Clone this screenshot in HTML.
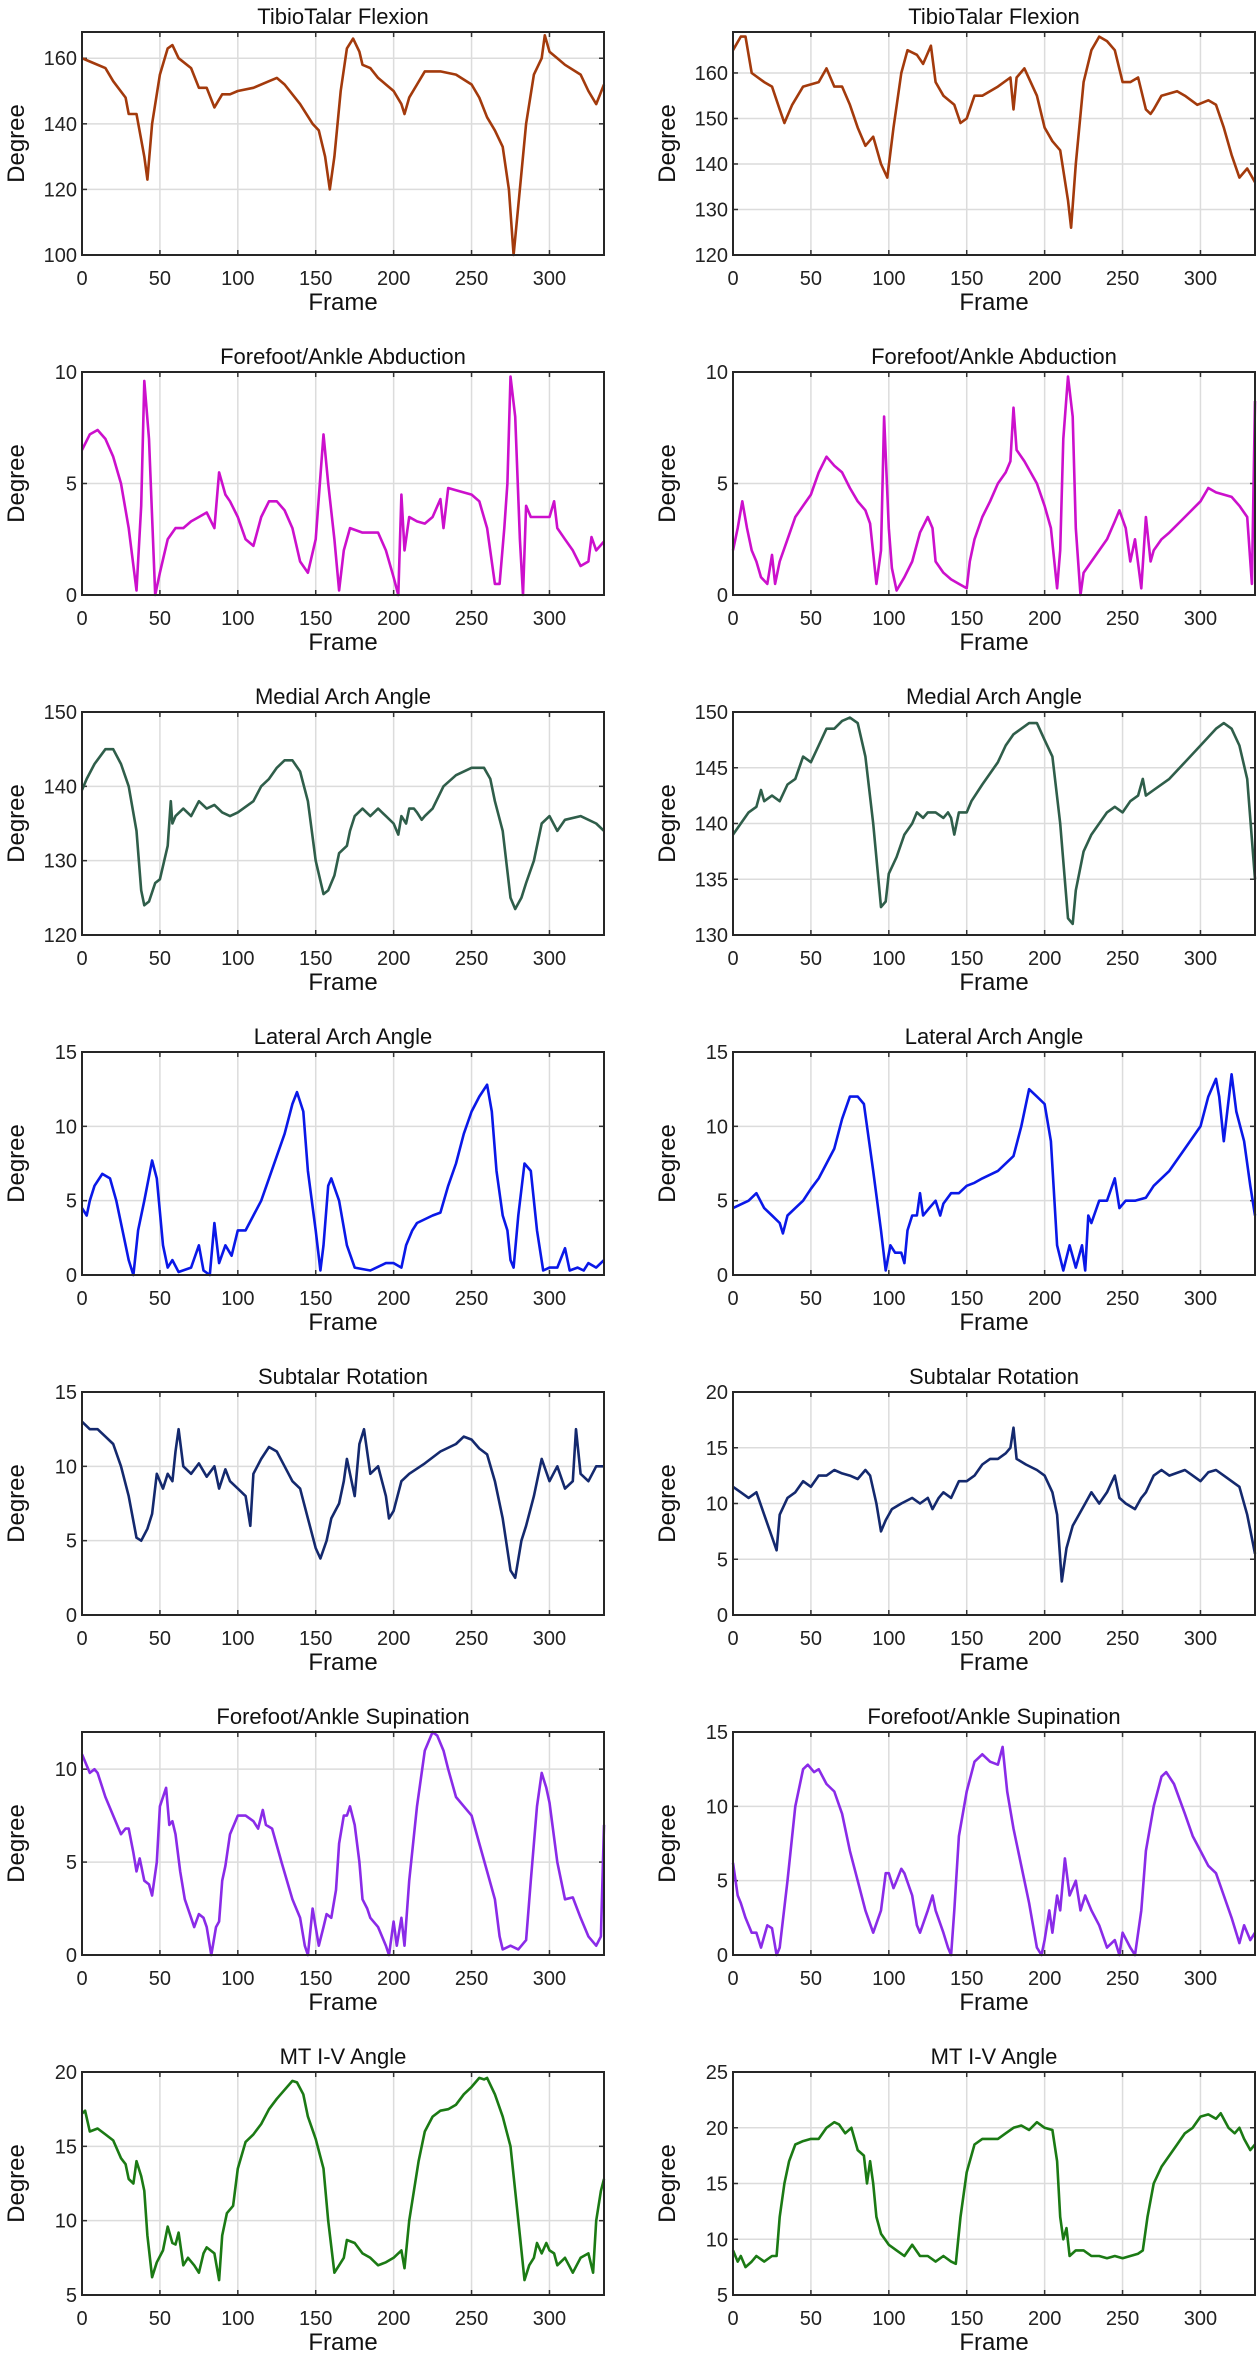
<!DOCTYPE html>
<html><head><meta charset="utf-8">
<style>
html,body{margin:0;padding:0;background:#fff;}
svg{display:block;font-family:"Liberation Sans",sans-serif;}
</style></head>
<body>
<svg id="chart" width="1260" height="2363" viewBox="0 0 1260 2363" xmlns="http://www.w3.org/2000/svg"></svg>
<script>
// ---- data (frame, value) keypoints per series ----
const titles=["TibioTalar Flexion","Forefoot/Ankle Abduction","Medial Arch Angle","Lateral Arch Angle","Subtalar Rotation","Forefoot/Ankle Supination","MT I-V Angle"];
const colors=["#a33a0c","#cc10cc","#2f5e4a","#0a18e8","#14296e","#8a2be8","#1b7a14"];
const xTicks=[0,50,100,150,200,250,300];
const xMax=335;
const yRangesL=[[100,168],[0,10],[120,150],[0,15],[0,15],[0,12],[5,20]];
const yRangesR=[[120,169],[0,10],[130,150],[0,15],[0,20],[0,15],[5,25]];
const yTicksL=[[100,120,140,160],[0,5,10],[120,130,140,150],[0,5,10,15],[0,5,10,15],[0,5,10],[5,10,15,20]];
const yTicksR=[[120,130,140,150,160],[0,5,10],[130,135,140,145,150],[0,5,10,15],[0,5,10,15,20],[0,5,10,15],[5,10,15,20,25]];

const tibioL=[[0,160],[5,159],[15,157],[20,153],[28,148],[30,143],[35,143],[40,130],[42,123],[45,140],[50,155],[55,163],[58,164],[62,160],[70,157],[75,151],[80,151],[85,145],[90,149],[95,149],[100,150],[110,151],[120,153],[125,154],[130,152],[140,146],[148,140],[152,138],[156,130],[159,120],[162,130],[166,150],[170,163],[174,166],[178,162],[180,158],[185,157],[190,154],[195,152],[200,150],[205,146],[207,143],[210,148],[215,152],[220,156],[225,156],[230,156],[240,155],[250,152],[255,148],[260,142],[265,138],[270,133],[274,120],[277,100],[280,115],[285,140],[290,155],[295,160],[297,167],[300,162],[305,160],[310,158],[320,155],[325,150],[330,146],[335,152]];
const tibioR=[[0,165],[5,168],[8,168],[12,160],[20,158],[25,157],[30,152],[33,149],[38,153],[45,157],[55,158],[60,161],[65,157],[70,157],[75,153],[80,148],[85,144],[90,146],[95,140],[99,137],[103,148],[108,160],[112,165],[118,164],[122,162],[127,166],[130,158],[135,155],[142,153],[146,149],[150,150],[155,155],[160,155],[170,157],[178,159],[180,152],[182,159],[187,161],[195,155],[200,148],[205,145],[210,143],[215,132],[217,126],[220,140],[225,158],[230,165],[235,168],[240,167],[245,165],[250,158],[255,158],[260,159],[265,152],[268,151],[270,152],[275,155],[285,156],[290,155],[298,153],[305,154],[310,153],[315,148],[320,142],[325,137],[330,139],[335,136]];
const abdL=[[0,6.5],[5,7.2],[10,7.4],[15,7.0],[20,6.2],[25,5.0],[30,3],[35,0.2],[38,4],[40,9.6],[43,7],[47,0],[50,1],[55,2.5],[60,3],[65,3],[70,3.3],[75,3.5],[80,3.7],[85,3.0],[88,5.5],[92,4.5],[95,4.2],[100,3.5],[105,2.5],[110,2.2],[115,3.5],[120,4.2],[125,4.2],[130,3.8],[135,3],[140,1.5],[145,1],[150,2.5],[155,7.2],[158,5],[162,2.5],[165,0.2],[168,2],[172,3.0],[180,2.8],[190,2.8],[195,2.0],[200,0.8],[203,0],[205,4.5],[207,2],[210,3.5],[215,3.3],[220,3.2],[225,3.5],[230,4.3],[232,3],[235,4.8],[240,4.7],[250,4.5],[255,4.2],[260,3],[265,0.5],[268,0.5],[271,3],[273,5],[275,9.8],[278,8],[281,2.5],[283,0],[285,4],[288,3.5],[295,3.5],[300,3.5],[303,4.2],[305,3],[310,2.5],[315,2],[320,1.3],[325,1.5],[327,2.6],[330,2.0],[335,2.4]];
const abdR=[[0,2],[3,3],[6,4.2],[9,3],[12,2],[15,1.5],[18,0.8],[22,0.5],[25,1.8],[27,0.5],[30,1.5],[35,2.5],[40,3.5],[45,4],[50,4.5],[55,5.5],[60,6.2],[65,5.8],[70,5.5],[75,4.8],[80,4.2],[85,3.8],[88,3.2],[92,0.5],[95,2],[97,8],[100,3],[102,1.2],[105,0.2],[110,0.8],[115,1.5],[120,2.8],[125,3.5],[128,3],[130,1.5],[135,1],[140,0.7],[145,0.5],[150,0.3],[152,1.5],[155,2.5],[160,3.5],[165,4.2],[170,5],[175,5.5],[178,6],[180,8.4],[182,6.5],[187,6],[195,5],[200,4],[204,3],[208,0.3],[210,2],[212,7],[215,9.8],[218,8],[220,3],[223,0],[225,1],[230,1.5],[235,2],[240,2.5],[245,3.3],[248,3.8],[252,3],[255,1.5],[258,2.5],[262,0.3],[265,3.5],[268,1.5],[270,2],[275,2.5],[280,2.8],[290,3.5],[300,4.2],[305,4.8],[310,4.6],[320,4.4],[325,4],[330,3.5],[333,0.5],[335,8.7]];
const medL=[[0,139.5],[3,141],[8,143],[15,145],[20,145],[25,143],[30,140],[35,134],[38,126],[40,124],[43,124.5],[47,127],[50,127.5],[55,132],[57,138],[58,135],[60,136],[65,137],[70,136],[75,138],[80,137],[85,137.5],[90,136.5],[95,136],[100,136.5],[110,138],[115,140],[120,141],[125,142.5],[130,143.5],[135,143.5],[140,142],[145,138],[150,130],[155,125.5],[158,126],[162,128],[165,131],[170,132],[172,134],[175,136],[180,137],[185,136],[190,137],[195,136],[200,135],[203,133.5],[205,136],[208,135],[210,137],[213,137],[215,136.5],[218,135.5],[220,136],[225,137],[232,140],[240,141.5],[250,142.5],[258,142.5],[262,141],[265,138],[270,134],[275,125],[278,123.5],[282,125],[285,127],[290,130],[295,135],[300,136],[305,134],[310,135.5],[320,136],[330,135],[335,134]];
const medR=[[0,139],[5,140],[10,141],[15,141.5],[18,143],[20,142],[25,142.5],[30,142],[35,143.5],[40,144],[45,146],[50,145.5],[55,147],[60,148.5],[65,148.5],[70,149.2],[75,149.5],[80,149],[85,146],[90,140],[95,132.5],[98,133],[100,135.5],[105,137],[110,139],[115,140],[118,141],[122,140.5],[125,141],[130,141],[135,140.5],[138,141],[140,140.5],[142,139],[145,141],[150,141],[153,142],[160,143.5],[170,145.5],[175,147],[180,148],[185,148.5],[190,149],[195,149],[200,147.5],[205,146],[210,140],[215,131.5],[218,131],[220,134],[225,137.5],[230,139],[235,140],[240,141],[245,141.5],[250,141],[255,142],[260,142.5],[263,144],[265,142.5],[270,143],[280,144],[290,145.5],[300,147],[310,148.5],[315,149],[320,148.5],[325,147],[330,144],[335,135]];
const latL=[[0,4.5],[3,4],[5,5],[8,6],[13,6.8],[18,6.5],[22,5],[26,3],[30,1],[33,0],[36,3],[40,5],[45,7.7],[48,6.5],[52,2],[55,0.5],[58,1],[62,0.2],[70,0.5],[75,2],[78,0.3],[82,0],[85,3.5],[88,0.8],[92,2],[96,1.3],[100,3],[105,3],[110,4],[115,5],[120,6.5],[125,8],[130,9.5],[135,11.5],[138,12.3],[142,11],[145,7],[150,3],[153,0.3],[155,2],[158,6],[160,6.5],[165,5],[170,2],[175,0.5],[185,0.3],[195,0.8],[200,0.8],[205,0.5],[208,2],[212,3],[215,3.5],[225,4],[230,4.2],[235,6],[240,7.5],[245,9.5],[250,11],[255,12],[260,12.8],[263,11],[266,7],[270,4],[273,3],[275,1],[277,0.5],[280,4],[284,7.5],[288,7],[292,3],[296,0.3],[300,0.5],[305,0.5],[310,1.8],[313,0.3],[318,0.5],[322,0.3],[325,0.8],[330,0.5],[335,1]];
const latR=[[0,4.5],[10,5],[15,5.5],[20,4.5],[25,4],[30,3.5],[32,2.8],[35,4],[40,4.5],[45,5],[50,5.8],[55,6.5],[60,7.5],[65,8.5],[70,10.5],[75,12],[80,12],[84,11.5],[90,7],[95,3],[98,0.3],[101,2],[104,1.5],[108,1.5],[110,0.8],[112,3],[115,4],[118,4],[120,5.5],[122,4],[126,4.5],[130,5],[133,4],[135,4.8],[140,5.5],[145,5.5],[150,6],[155,6.2],[160,6.5],[170,7],[180,8],[185,10],[190,12.5],[195,12],[200,11.5],[204,9],[208,2],[212,0.3],[216,2],[220,0.5],[224,2],[226,0.3],[228,4],[230,3.5],[235,5],[240,5],[245,6.5],[248,4.5],[252,5],[258,5],[265,5.2],[270,6],[280,7],[290,8.5],[300,10],[305,12],[310,13.2],[312,12],[315,9],[320,13.5],[323,11],[328,9],[332,6],[335,4]];
const subL=[[0,13],[5,12.5],[10,12.5],[15,12],[20,11.5],[25,10],[30,8],[35,5.2],[38,5],[42,5.8],[45,6.8],[48,9.5],[52,8.5],[55,9.5],[58,9],[60,11],[62,12.5],[65,10],[70,9.5],[75,10.2],[80,9.3],[85,10],[88,8.5],[92,9.8],[95,9],[100,8.5],[105,8],[108,6],[110,9.5],[115,10.5],[120,11.3],[125,11],[130,10],[135,9],[140,8.5],[145,6.5],[150,4.5],[153,3.8],[157,5],[160,6.5],[165,7.5],[168,9],[170,10.5],[175,8],[178,11.5],[181,12.5],[185,9.5],[190,10],[195,8],[197,6.5],[200,7],[205,9],[210,9.5],[220,10.2],[230,11],[240,11.5],[245,12],[250,11.8],[255,11.2],[260,10.8],[265,9],[270,6.5],[275,3],[278,2.5],[282,5],[285,6],[290,8],[295,10.5],[300,9],[305,10],[310,8.5],[315,9],[317,12.5],[320,9.5],[325,9],[330,10],[335,10]];
const subR=[[0,11.5],[5,11],[10,10.5],[15,11],[20,9],[25,7],[28,5.8],[30,9],[35,10.5],[40,11],[45,12],[50,11.5],[55,12.5],[60,12.5],[65,13],[70,12.7],[75,12.5],[80,12.2],[85,13],[88,12.5],[92,10],[95,7.5],[98,8.5],[102,9.5],[108,10],[115,10.5],[120,10],[125,10.5],[128,9.5],[132,10.5],[135,11],[140,10.5],[145,12],[150,12],[155,12.5],[160,13.5],[165,14],[170,14],[175,14.5],[178,15],[180,16.8],[182,14],[188,13.5],[195,13],[200,12.5],[205,11],[208,9],[211,3],[214,6],[218,8],[222,9],[226,10],[230,11],[235,10],[240,11],[245,12.5],[248,10.5],[252,10],[258,9.5],[262,10.5],[265,11],[270,12.5],[275,13],[280,12.5],[290,13],[295,12.5],[300,12],[305,12.8],[310,13],[315,12.5],[320,12],[325,11.5],[330,9],[335,5.5]];
const supL=[[0,10.8],[3,10.2],[5,9.8],[8,10],[10,9.8],[15,8.5],[20,7.5],[25,6.5],[28,6.8],[30,6.8],[33,5.5],[35,4.5],[37,5.2],[40,4.0],[43,3.8],[45,3.2],[48,5],[50,8],[54,9],[56,7],[58,7.2],[60,6.5],[63,4.5],[66,3],[70,2],[72,1.5],[75,2.2],[78,2.0],[80,1.5],[83,0],[86,1.5],[88,1.8],[90,4],[92,4.8],[95,6.5],[100,7.5],[105,7.5],[110,7.2],[113,6.8],[116,7.8],[118,7.0],[122,6.8],[128,5],[135,3],[140,2],[143,0.5],[145,0],[148,2.5],[150,1.5],[152,0.5],[155,1.5],[157,2.2],[160,2],[163,3.5],[165,6],[168,7.5],[170,7.5],[172,8],[175,7],[178,5],[180,3],[183,2.5],[185,2],[190,1.5],[195,0.5],[197,0],[200,1.8],[202,0.5],[205,2],[207,0.5],[210,4],[215,8],[220,11],[225,12],[228,11.8],[232,11],[235,10],[240,8.5],[245,8],[250,7.5],[255,6],[260,4.5],[265,3],[268,1],[270,0.3],[275,0.5],[280,0.3],[285,0.8],[288,4],[292,8],[295,9.8],[298,9],[300,8.2],[305,5],[310,3],[315,3.1],[320,2],[325,1],[330,0.5],[333,1],[335,7]];
const supR=[[0,6.2],[3,4],[5,3.5],[8,2.5],[12,1.5],[15,1.5],[18,0.5],[22,2],[25,1.8],[28,0],[30,0.5],[35,5],[40,10],[45,12.5],[48,12.8],[52,12.3],[55,12.5],[60,11.5],[65,11],[70,9.5],[75,7],[80,5],[85,3],[90,1.5],[95,3],[98,5.5],[100,5.5],[103,4.5],[105,5],[108,5.8],[110,5.5],[115,4],[118,2],[120,1.5],[125,3],[128,4],[130,3],[135,1.5],[138,0.5],[140,0],[142,3],[145,8],[150,11],[155,13],[160,13.5],[165,13],[170,12.8],[173,14],[176,11],[180,8.5],[185,6],[190,3.5],[195,0.5],[198,0],[200,1],[203,3],[205,1.5],[208,4],[210,3],[213,6.5],[216,4],[220,5],[223,3],[226,4],[230,3],[235,2],[240,0.5],[245,1],[248,0],[250,1.5],[255,0.5],[258,0],[262,3],[265,7],[270,10],[275,12],[278,12.3],[283,11.5],[290,9.5],[295,8],[300,7],[305,6],[310,5.5],[315,4],[320,2.5],[325,0.8],[328,2],[332,1],[335,1.5]];
const mtL=[[0,17.2],[2,17.4],[5,16],[10,16.2],[15,15.8],[20,15.4],[25,14.2],[28,13.8],[30,12.8],[33,12.5],[35,14],[38,13],[40,12],[42,9],[45,6.2],[48,7.2],[52,8],[55,9.6],[58,8.5],[60,8.4],[62,9.2],[65,7],[68,7.5],[72,7],[75,6.5],[78,7.8],[80,8.2],[85,7.8],[88,6.0],[90,9],[93,10.5],[97,11],[100,13.5],[105,15.3],[110,15.8],[115,16.5],[120,17.5],[125,18.2],[130,18.8],[135,19.4],[138,19.3],[142,18.5],[145,17],[150,15.5],[155,13.5],[158,10],[162,6.5],[165,7],[168,7.5],[170,8.7],[175,8.5],[180,7.8],[185,7.5],[190,7],[195,7.2],[200,7.5],[205,8],[207,6.8],[210,10],[213,12],[216,14],[220,16],[225,17],[230,17.4],[235,17.5],[240,17.8],[245,18.5],[250,19],[255,19.6],[258,19.5],[260,19.6],[265,18.5],[270,17],[275,15],[278,12],[281,9],[284,6],[287,7],[290,7.5],[292,8.5],[295,7.8],[298,8.5],[300,8],[303,7.8],[305,7],[310,7.5],[315,6.5],[320,7.5],[325,7.8],[328,6.5],[330,10],[333,12],[335,12.8]];
const mtR=[[0,9],[3,8],[5,8.5],[8,7.5],[12,8],[15,8.5],[20,8],[25,8.5],[28,8.5],[30,12],[33,15],[36,17],[40,18.5],[45,18.8],[50,19],[55,19],[60,20],[65,20.5],[68,20.3],[72,19.5],[76,20],[80,18],[84,17.5],[86,15],[88,17],[90,15],[92,12],[95,10.5],[100,9.5],[105,9],[110,8.5],[115,9.5],[120,8.5],[125,8.5],[130,8],[135,8.5],[140,8],[143,7.8],[146,12],[150,16],[155,18.5],[160,19],[165,19],[170,19],[175,19.5],[180,20],[185,20.2],[190,19.8],[195,20.5],[200,20],[205,19.8],[208,17],[210,12],[212,10],[214,11],[216,8.5],[220,9],[225,9],[230,8.5],[235,8.5],[240,8.3],[245,8.5],[250,8.3],[255,8.5],[260,8.7],[263,9],[266,12],[270,15],[275,16.5],[280,17.5],[285,18.5],[290,19.5],[295,20],[300,21],[305,21.2],[310,20.8],[313,21.3],[318,20],[322,19.5],[325,20],[328,19],[332,18],[335,18.5]];

const seriesL=[tibioL,abdL,medL,latL,subL,supL,mtL];
const seriesR=[tibioR,abdR,medR,latR,subR,supR,mtR];

// ---- layout ----
const NS="http://www.w3.org/2000/svg";
const svg=document.getElementById('chart');
const colX=[82,733], plotW=522, plotH=223, rowGap=340, top0=32;
function mk(tag,attrs,parent){const e=document.createElementNS(NS,tag);for(const k in attrs)e.setAttribute(k,attrs[k]);(parent||svg).appendChild(e);return e;}

function panel(row,col){
  const x0=colX[col], y0=top0+row*rowGap;
  const yr=col?yRangesR[row]:yRangesL[row], yt=col?yTicksR[row]:yTicksL[row], data=col?seriesR[row]:seriesL[row];
  const sx=v=>x0+v/xMax*plotW;
  const sy=v=>y0+plotH-(v-yr[0])/(yr[1]-yr[0])*plotH;
  const side=col?'right':'left';
  const g=mk('g',{});
  
  
  const grid=mk('g',{stroke:'#dcdcdc','stroke-width':1.5},g);
  
  
  xTicks.forEach(t=>{mk('line',{x1:sx(t),x2:sx(t),y1:y0,y2:y0+plotH},grid);});
  yt.forEach(t=>{mk('line',{x1:x0,x2:x0+plotW,y1:sy(t),y2:sy(t)},grid);});
  // ticks + labels
  const xl=mk('g',{'font-size':20,fill:'#222','text-anchor':'middle'},g);
  
  
  xTicks.forEach(t=>{const tx=mk('text',{x:sx(t),y:y0+plotH+30},xl);tx.textContent=t;
    mk('line',{x1:sx(t),x2:sx(t),y1:y0+plotH,y2:y0+plotH-5,stroke:'#333','stroke-width':1.5},g);
    mk('line',{x1:sx(t),x2:sx(t),y1:y0,y2:y0+5,stroke:'#333','stroke-width':1.5},g);});
  const yl=mk('g',{'font-size':20,fill:'#222','text-anchor':'end'},g);
  
  
  yt.forEach(t=>{const ty=mk('text',{x:x0-5,y:sy(t)+7},yl);ty.textContent=t;
    mk('line',{x1:x0,x2:x0+5,y1:sy(t),y2:sy(t),stroke:'#333','stroke-width':1.5},g);
    mk('line',{x1:x0+plotW,x2:x0+plotW-5,y1:sy(t),y2:sy(t),stroke:'#333','stroke-width':1.5},g);});
  // line
  const d=data.map((p,i)=>(i?'L':'M')+sx(p[0]).toFixed(1)+','+sy(p[1]).toFixed(1)).join(' ');
  const path=mk('path',{d:d,fill:'none',stroke:colors[row],'stroke-width':2.6,'stroke-linejoin':'round'},g);
  
  
  // box
  const box=mk('rect',{x:x0,y:y0,width:plotW,height:plotH,fill:'none',stroke:'#262626','stroke-width':2},g);
  
  
  const ti=mk('text',{x:x0+plotW/2,y:y0-8,'font-size':22,'text-anchor':'middle',fill:'#111'},g);
  ti.textContent=titles[row];
  
  
  const fr=mk('text',{x:x0+plotW/2,y:y0+plotH+55,'font-size':24,'text-anchor':'middle',fill:'#111'},g);
  fr.textContent='Frame';
  
  
  const yx=x0-58, yy=y0+plotH/2;
  const dg=mk('text',{x:yx,y:yy,'font-size':24,'text-anchor':'middle',fill:'#111',transform:'rotate(-90 '+yx+' '+yy+')'},g);
  dg.textContent='Degree';
  
  
}
for(let r=0;r<7;r++){panel(r,0);panel(r,1);}
</script>
</body></html>
